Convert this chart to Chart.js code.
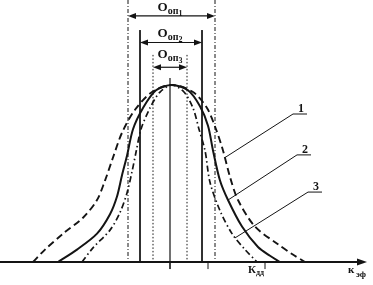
<!DOCTYPE html>
<html lang="ru">
<head>
<meta charset="UTF-8">
<title>Распределение Кэф</title>
<script src="https://cdn.jsdelivr.net/npm/chart.js"></script>
<style>
    body { margin: 0; background: #fff; }
    #wrap { width: 373px; height: 285px; position: relative; }
</style>
</head>
<body>
<div id="wrap"><canvas id="chart"></canvas></div>
<script>
// curve 1 (dashed), x = Кэф, y = relative density
const k1 = [3.3, 4.5, 6.3, 8.3, 9.7, 10.5, 11.3, 12.2, 13.5, 15.2, 17.2, 19.3, 20.7, 21.6, 22.3, 23.0, 23.8, 25.5, 27.8, 29.2, 30.5];
const p1 = [0, 0.07, 0.16, 0.25, 0.35, 0.46, 0.59, 0.73, 0.86, 0.96, 1.0, 0.96, 0.87, 0.75, 0.63, 0.48, 0.35, 0.20, 0.10, 0.045, 0];
// curve 2 (solid)
const k2 = [5.8, 7.7, 9.7, 11.0, 11.7, 12.2, 12.7, 13.3, 14.3, 15.6, 17.2, 18.8, 20.0, 20.8, 21.3, 22.0, 22.8, 24.2, 25.8, 27.0, 28.0];
const p2 = [0, 0.07, 0.16, 0.27, 0.37, 0.49, 0.60, 0.75, 0.87, 0.97, 1.0, 0.97, 0.88, 0.77, 0.63, 0.46, 0.35, 0.20, 0.085, 0.035, 0];
// curve 3 (dash-dot)
const k3 = [8.2, 9.3, 11.0, 12.0, 12.7, 13.2, 13.6, 14.1, 15.0, 16.0, 17.2, 18.4, 19.3, 19.9, 20.5, 21.0, 22.0, 23.2, 24.5, 25.7];
const p3 = [0, 0.08, 0.18, 0.28, 0.39, 0.51, 0.62, 0.75, 0.87, 0.96, 1.0, 0.96, 0.87, 0.75, 0.63, 0.45, 0.29, 0.16, 0.07, 0];

// tolerance zones Oоп1..3: edges, top of the edge lines, level of the dimension arrow
const zoneIdx = ['1', '2', '3'];
const zoneEdges = [[12.8, 21.5], [14.0, 20.2], [15.3, 18.7]];
const zoneTops = [1.48, 1.31, 1.17];
const zoneArrowY = [1.39, 1.24, 1.10];
const zoneLabelY = [1.42, 1.27, 1.15];
const centerK = 17.0;
const centerTop = 1.04;
const axisTicks = [17.0, 20.8, 26.5];

// leader lines to curve numbers: [curveX, curveY, labelX, labelY]
const leaders = [[22.5, 0.59, 29.3, 0.836], [22.8, 0.35, 29.7, 0.605], [23.5, 0.136, 30.8, 0.395]];

const INK = '#141414';
const pts = (xs, ys) => xs.map((x, i) => ({ x: x, y: ys[i] }));

const datasets = [
    { data: pts(k1, p1), borderDash: [7, 4], borderWidth: 1.9 },
    { data: pts(k2, p2), borderDash: [], borderWidth: 2 },
    { data: pts(k3, p3), borderDash: [6, 3, 1.5, 3], borderWidth: 1.7 }
].map(d => Object.assign(d, { tension: 0.3 }));

// zone edge lines
const edgeDash = [[4, 2, 1, 2], [], [1.5, 2]];
zoneEdges.forEach((pair, i) => {
    pair.forEach(x => {
        datasets.push({ data: [{ x: x, y: zoneTops[i] }, { x: x, y: 0 }], borderDash: edgeDash[i], borderWidth: 1 });
    });
});
datasets.push({ data: [{ x: centerK, y: centerTop }, { x: centerK, y: -0.04 }], borderDash: [], borderWidth: 1.2 });

datasets.forEach(d => {
    d.showLine = true;
    d.pointRadius = 0;
    d.borderColor = INK;
    d.fill = false;
    d.clip = false;
});

function subText(ctx, cx, y, parts) {
    let w = 0;
    parts.forEach(p => { ctx.font = 'bold ' + p[1] + 'px "Liberation Serif"'; w += ctx.measureText(p[0]).width; });
    let x = cx - w / 2;
    parts.forEach(p => {
        ctx.font = 'bold ' + p[1] + 'px "Liberation Serif"';
        ctx.fillText(p[0], x, y + p[2]);
        x += ctx.measureText(p[0]).width;
    });
}

function arrowHead(ctx, x, y, dir, len, half) {
    ctx.beginPath();
    ctx.moveTo(x, y);
    ctx.lineTo(x - dir * len, y - half);
    ctx.lineTo(x - dir * len, y + half);
    ctx.closePath();
    ctx.fill();
}

const sketch = {
    id: 'sketch',
    afterDatasetsDraw(chart) {
        const ctx = chart.ctx;
        const sx = chart.scales.x, sy = chart.scales.y;
        const X = v => sx.getPixelForValue(v), Y = v => sy.getPixelForValue(v);
        ctx.save();
        ctx.strokeStyle = INK;
        ctx.fillStyle = INK;
        ctx.textBaseline = 'alphabetic';

        // axis
        ctx.lineWidth = 1.8;
        ctx.beginPath();
        ctx.moveTo(X(0), Y(0));
        ctx.lineTo(X(36.2), Y(0));
        ctx.stroke();
        arrowHead(ctx, X(36.7), Y(0), 1, 10, 3.5);
        ctx.lineWidth = 1;
        axisTicks.forEach(t => {
            ctx.beginPath();
            ctx.moveTo(X(t), Y(0));
            ctx.lineTo(X(t), Y(-0.04));
            ctx.stroke();
        });

        // dimension arrows and labels
        zoneEdges.forEach((pair, i) => {
            const y = Y(zoneArrowY[i]);
            ctx.lineWidth = 1.2;
            ctx.beginPath();
            ctx.moveTo(X(pair[0]) + 4, y);
            ctx.lineTo(X(pair[1]) - 4, y);
            ctx.stroke();
            arrowHead(ctx, X(pair[0]), y, -1, 8, 3);
            arrowHead(ctx, X(pair[1]), y, 1, 8, 3);
            subText(ctx, X(centerK), Y(zoneLabelY[i]), [['О', 13, 0], ['оп', 10, 3], [zoneIdx[i], 8, 5]]);
        });

        // curve numbers
        ctx.lineWidth = 1;
        leaders.forEach((l, i) => {
            ctx.beginPath();
            ctx.moveTo(X(l[0]), Y(l[1]));
            ctx.lineTo(X(l[2]), Y(l[3]));
            ctx.lineTo(X(l[2] + 1.4), Y(l[3]));
            ctx.stroke();
            ctx.font = 'bold 12px "Liberation Serif"';
            ctx.textAlign = 'center';
            ctx.fillText(zoneIdx[i], X(l[2] + 0.8), Y(l[3]) - 2);
            ctx.textAlign = 'left';
        });

        // axis labels
        ctx.font = 'bold 11px "Liberation Serif"';
        ctx.fillText('К', X(24.8), Y(-0.06));
        ctx.font = 'bold 8px "Liberation Serif"';
        ctx.fillText('дд', X(25.6), Y(-0.075));
        ctx.font = 'bold 11px "Liberation Serif"';
        ctx.fillText('к', X(34.8), Y(-0.06));
        ctx.font = 'bold 9px "Liberation Serif"';
        ctx.fillText('эф', X(35.6), Y(-0.085));
        ctx.restore();
    }
};

new Chart(document.getElementById('chart'), {
    type: 'scatter',
    data: { datasets: datasets },
    options: {
        responsive: true,
        maintainAspectRatio: false,
        animation: false,
        layout: { padding: 0 },
        scales: {
            x: { type: 'linear', min: 0, max: 37.3, display: false },
            y: { type: 'linear', min: -0.13, max: 1.48, display: false }
        },
        plugins: { legend: { display: false }, tooltip: { enabled: false } }
    },
    plugins: [sketch]
});
</script>
</body>
</html>
